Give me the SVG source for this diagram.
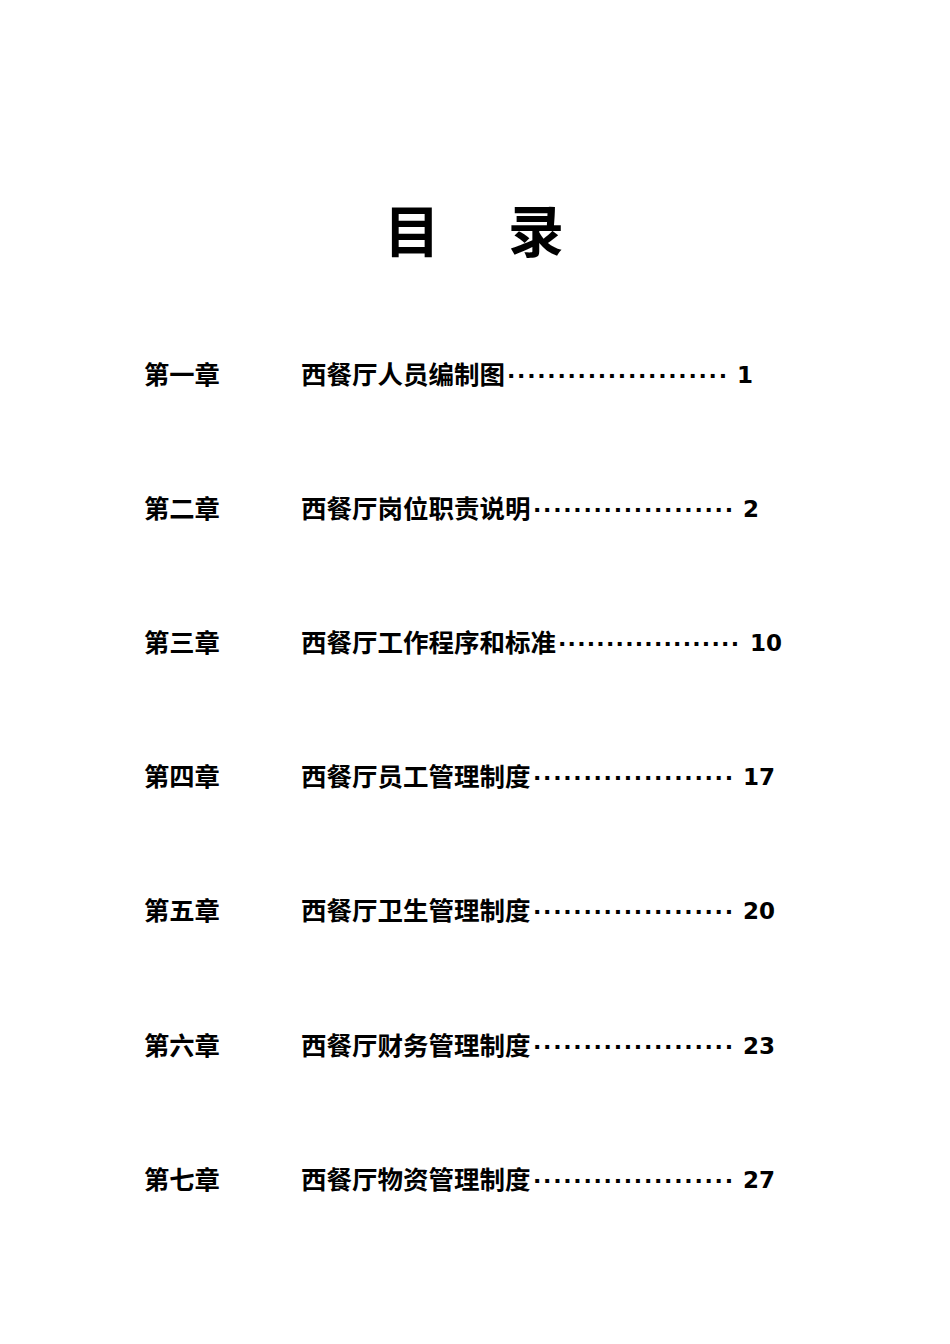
<svg xmlns="http://www.w3.org/2000/svg" width="950" height="1344" viewBox="0 0 950 1344">
<style>
text{font-family:"DejaVu Sans","Noto Sans CJK SC",sans-serif;font-weight:bold;fill:#000}
.c{font-size:25.3px}
.t{font-size:25.5px}
.d{font-size:22px}
.n{font-size:23px}
.h{font-size:56px}
</style>
<rect width="950" height="1344" fill="#fff"/>
<text class="h" x="384" y="252">目</text>
<text class="h" x="508" y="252">录</text>
<g id="r1"><text class="c" x="144" y="384">第一章</text><text class="t" x="301" y="384">西餐厅人员编制图</text><text class="d" x="507" y="383" textLength="220" lengthAdjust="spacing">······················</text><text class="n" x="737" y="383">1</text></g>
<g id="r2"><text class="c" x="144" y="518">第二章</text><text class="t" x="301" y="518">西餐厅岗位职责说明</text><text class="d" x="533" y="517" textLength="200" lengthAdjust="spacing">····················</text><text class="n" x="743" y="517">2</text></g>
<g id="r3"><text class="c" x="144" y="652">第三章</text><text class="t" x="301" y="652">西餐厅工作程序和标准</text><text class="d" x="558" y="651" textLength="181" lengthAdjust="spacing">···················</text><text class="n" x="750" y="651">10</text></g>
<g id="r4"><text class="c" x="144" y="786">第四章</text><text class="t" x="301" y="786">西餐厅员工管理制度</text><text class="d" x="533" y="785" textLength="200" lengthAdjust="spacing">····················</text><text class="n" x="743" y="785">17</text></g>
<g id="r5"><text class="c" x="144" y="920">第五章</text><text class="t" x="301" y="920">西餐厅卫生管理制度</text><text class="d" x="533" y="919" textLength="200" lengthAdjust="spacing">····················</text><text class="n" x="743" y="919">20</text></g>
<g id="r6"><text class="c" x="144" y="1055">第六章</text><text class="t" x="301" y="1055">西餐厅财务管理制度</text><text class="d" x="533" y="1054" textLength="200" lengthAdjust="spacing">····················</text><text class="n" x="743" y="1054">23</text></g>
<g id="r7"><text class="c" x="144" y="1189">第七章</text><text class="t" x="301" y="1189">西餐厅物资管理制度</text><text class="d" x="533" y="1188" textLength="200" lengthAdjust="spacing">····················</text><text class="n" x="743" y="1188">27</text></g>
</svg>
